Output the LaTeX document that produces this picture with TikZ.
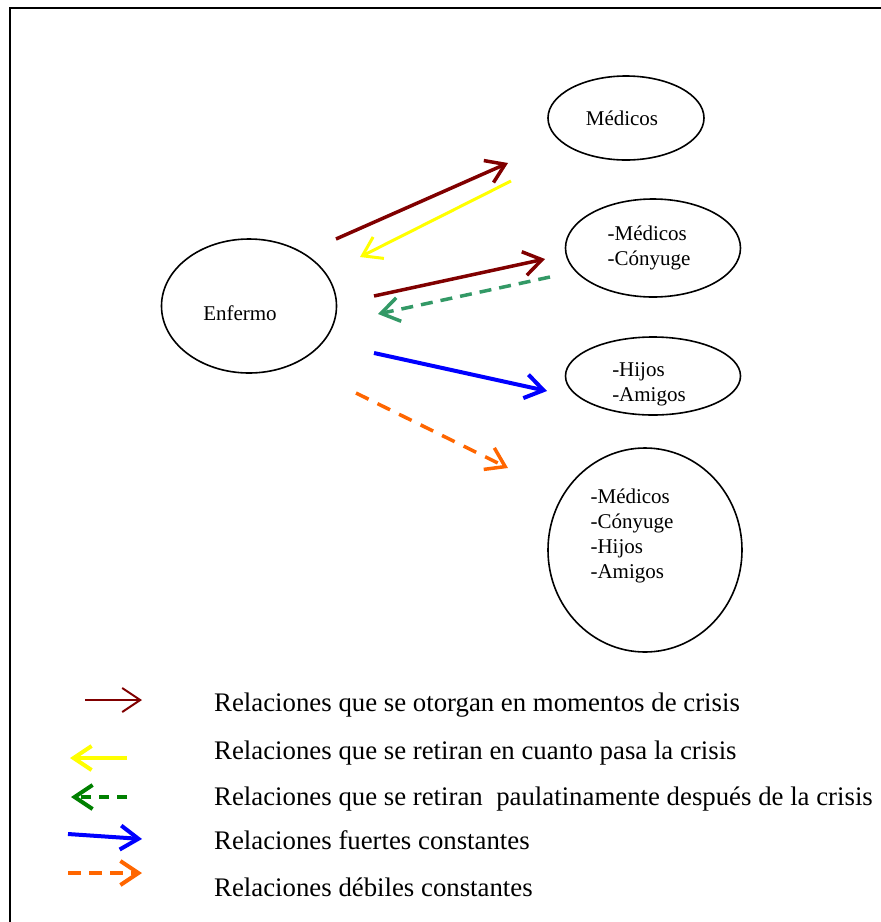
\documentclass[tikz,border=0pt]{standalone}
\usepackage{fontspec}
\setmainfont{Liberation Serif}
\usetikzlibrary{shapes.geometric,arrows.meta}

\definecolor{crisisred}{RGB}{128,0,0}
\definecolor{retiroyellow}{RGB}{255,255,0}
\definecolor{paulagreen}{RGB}{51,153,102}
\definecolor{leyendagreen}{RGB}{0,128,0}
\definecolor{fuerteblue}{RGB}{0,0,255}
\definecolor{debilorange}{RGB}{255,102,0}

\tikzset{
  grupo/.style={ellipse, draw, line width=1.6pt, inner sep=0pt},
  grupotexto/.style={align=left, inner sep=0pt, font=\fontsize{21}{25}\selectfont},
  barb/.style={-{Straight Barb[length=18pt,width=24pt]}},
  leyenda/.style={anchor=base west, inner sep=0pt, font=\fontsize{26.8}{30}\selectfont},
}

\begin{document}
\begin{tikzpicture}[x=1pt,y=-1pt]
\useasboundingbox (0,0) rectangle (881,922);
\draw[line width=2pt] (10,922)--(10,8)--(881,8);

% grupos
\node[grupo, minimum width=156, minimum height=84] (med) at (626,118) {};
\node[grupo, minimum width=175, minimum height=98] (medcon) at (653,248) {};
\node[grupo, minimum width=175, minimum height=78] (hijam) at (653,376) {};
\node[grupo, minimum width=194, minimum height=204] (todos) at (645,550) {};
\node[grupo, minimum width=175, minimum height=134] (enf) at (249,306) {};

\node[grupotexto] (medtxt) at ([shift={(-4,0)}]med.center) {M\'edicos};
\node[grupotexto] (medcontxt) at ([shift={(-4,0)}]medcon.center) {-M\'edicos\\-C\'onyuge};
\node[grupotexto] (hijamtxt) at ([shift={(-4,8)}]hijam.center) {-Hijos\\-Amigos};
\node[grupotexto] (todostxt) at ([shift={(-13,-14)}]todos.center) {-M\'edicos\\-C\'onyuge\\-Hijos\\-Amigos};
\node[grupotexto] (enftxt) at ([shift={(-9,7)}]enf.center) {Enfermo};

% relaciones
\coordinate (r1a) at (336,239); \coordinate (r1b) at (508,163);
\draw[crisisred, line width=3.5pt, barb] (r1a)--(r1b);
\coordinate (y1a) at (511,181); \coordinate (y1b) at (360,257);
\draw[retiroyellow, line width=3pt, barb] (y1a)--(y1b);
\coordinate (r2a) at (374,296); \coordinate (r2b) at (545,259);
\draw[crisisred, line width=3.5pt, barb] (r2a)--(r2b);
\coordinate (g1a) at (550,277); \coordinate (g1b) at (378,314);
\draw[paulagreen, line width=3.5pt, dash pattern=on 12pt off 8pt, barb] (g1a)--(g1b);
\coordinate (b1a) at (374,353); \coordinate (b1b) at (547,391);
\draw[fuerteblue, line width=4pt, barb] (b1a)--(b1b);
\coordinate (o1a) at (356,393); \coordinate (o1b) at (508,468);
\draw[debilorange, line width=3.5pt, dash pattern=on 14pt off 10pt, barb] (o1a)--(o1b);

% leyenda
\coordinate (l1a) at (85,700); \coordinate (l1b) at (142,700);
\draw[crisisred, line width=2pt, barb] (l1a)--(l1b);
\coordinate (l2a) at (127,758); \coordinate (l2b) at (70,758);
\draw[retiroyellow, line width=4pt, barb] (l2a)--(l2b);
\coordinate (l3a) at (127,797); \coordinate (l3b) at (71,797);
\draw[leyendagreen, line width=4pt, dash pattern=on 10pt off 8pt, barb] (l3a)--(l3b);
\coordinate (l4a) at (68,834); \coordinate (l4b) at (142,839);
\draw[fuerteblue, line width=4pt, barb] (l4a)--(l4b);
\coordinate (l5a) at (68,873); \coordinate (l5b) at (142,873);
\draw[debilorange, line width=4pt, dash pattern=on 13pt off 8pt, barb] (l5a)--(l5b);

\node[leyenda] (t1) at (214,711) {Relaciones que se otorgan en momentos de crisis};
\node[leyenda] (t2) at (214,759) {Relaciones que se retiran en cuanto pasa la crisis};
\node[leyenda] (t3) at (214,805) {Relaciones que se retiran~ paulatinamente despu\'es de la crisis};
\node[leyenda] (t4) at (214,849) {Relaciones fuertes constantes};
\node[leyenda] (t5) at (214,896) {Relaciones d\'ebiles constantes};
\end{tikzpicture}
\end{document}
